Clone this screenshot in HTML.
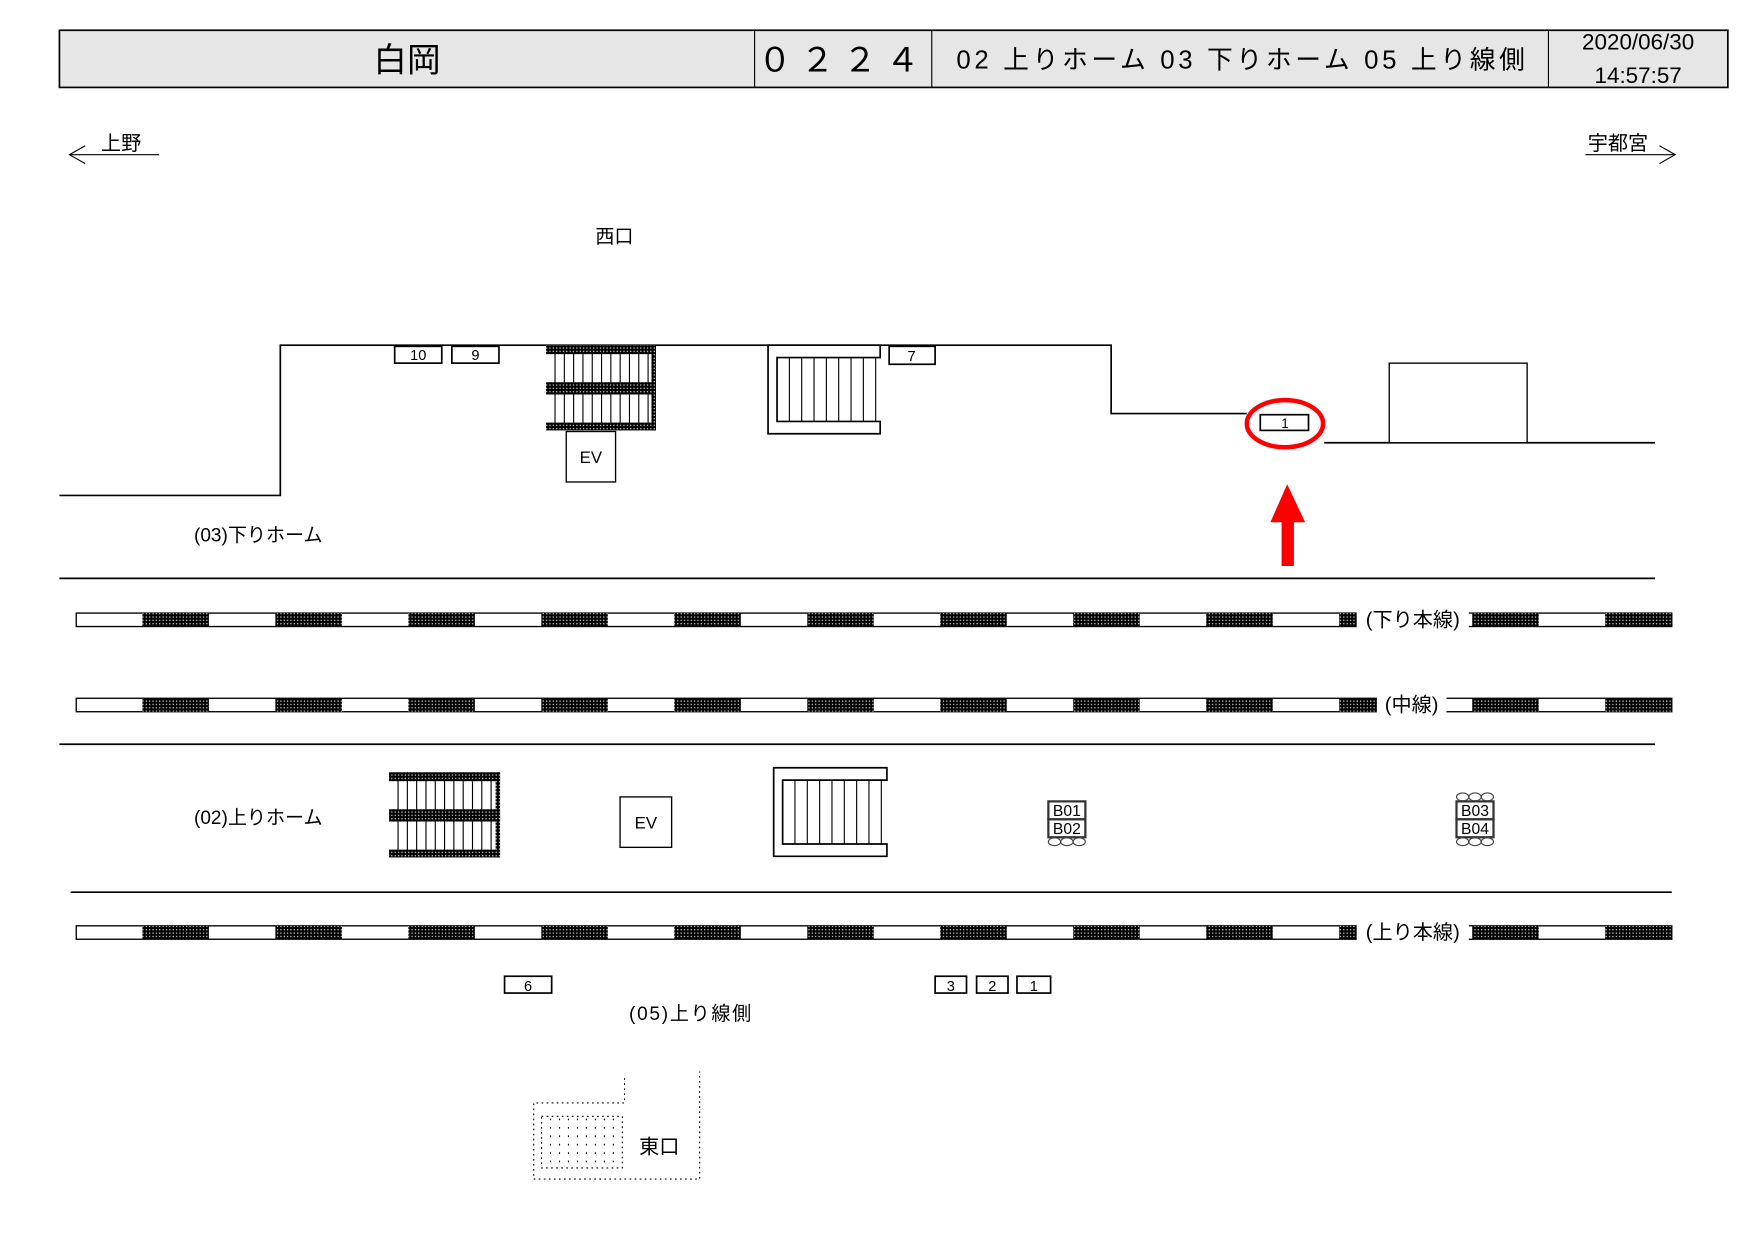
<!DOCTYPE html>
<html><head><meta charset="utf-8"><style>
html,body{margin:0;padding:0;background:#fff;}
svg{display:block;}
text{font-family:"Liberation Sans","Noto Sans CJK JP",sans-serif;fill:#000;}
</style></head><body>
<svg id="s" width="1757" height="1243" viewBox="0 0 1567 1109" preserveAspectRatio="none" xmlns="http://www.w3.org/2000/svg">
<defs>
<pattern id="h" width="3" height="3" patternUnits="userSpaceOnUse">
<rect width="3" height="3" fill="#000"/><rect x="1" y="1" width="1" height="1" fill="#fff"/>
</pattern>
</defs>
<rect x="53" y="27" width="1488" height="51" fill="#e6e6e6" stroke="#000" stroke-width="1.5"/>
<line x1="673" y1="27" x2="673" y2="78" stroke="#000"/>
<line x1="831" y1="27" x2="831" y2="78" stroke="#000"/>
<line x1="1381" y1="27" x2="1381" y2="78" stroke="#000"/>
<text x="363" y="64" font-size="30" text-anchor="middle">白岡</text>
<text x="752" y="64" font-size="30" text-anchor="middle" letter-spacing="8">０２２４</text>
<text x="853" y="61" font-size="23" textLength="507" lengthAdjust="spacing">02 上りホーム 03 下りホーム 05 上り線側</text>
<text x="1461" y="44" font-size="20" text-anchor="middle">2020/06/30</text>
<text x="1461" y="74" font-size="20" text-anchor="middle">14:57:57</text>
<line x1="62" y1="138" x2="142" y2="138" stroke="#000"/>
<polyline points="76,130 62,138 76,146" fill="none" stroke="#000"/>
<text x="90" y="134" font-size="18">上野</text>
<line x1="1414" y1="138" x2="1494" y2="138" stroke="#000"/>
<polyline points="1480,130 1494,138 1480,146" fill="none" stroke="#000"/>
<text x="1416" y="134" font-size="18">宇都宮</text>
<text x="531" y="217" font-size="17">西口</text>
<polyline points="53,442 250,442 250,308 991,308 991,369 1112,369" fill="none" stroke="#000" stroke-width="1.5"/>
<polyline points="1181,395 1476,395" fill="none" stroke="#000" stroke-width="1.5"/>
<rect x="1239" y="324" width="123" height="71" fill="#fff" stroke="#000" stroke-width="1.2"/>
<rect x="352" y="309" width="42" height="15" fill="#fff" stroke="#000" stroke-width="1.5"/>
<text x="373" y="321" font-size="13" text-anchor="middle">10</text>
<rect x="403" y="309" width="42" height="15" fill="#fff" stroke="#000" stroke-width="1.5"/>
<text x="424" y="321" font-size="13" text-anchor="middle">9</text>
<rect x="793" y="309" width="41" height="16" fill="#fff" stroke="#000" stroke-width="1.5"/>
<text x="813" y="322" font-size="13" text-anchor="middle">7</text>
<g id="st1"></g>
<rect x="505" y="385" width="44" height="45" fill="#fff" stroke="#000" stroke-width="1.2"/>
<text x="527" y="413" font-size="15" text-anchor="middle">EV</text>
<g id="es1"></g>
<rect x="1124" y="370" width="43" height="14" fill="#fff" stroke="#000" stroke-width="1.5"/>
<text x="1146" y="382" font-size="12" text-anchor="middle">1</text>
<ellipse cx="1146" cy="378" rx="34" ry="21" fill="none" stroke="#f00" stroke-width="4"/>
<polygon points="1148,432 1164,466 1154,466 1154,505 1143,505 1143,466 1133,466" fill="#f00"/>
<text x="173" y="483" font-size="17">(03)下りホーム</text>
<line x1="53" y1="516" x2="1476" y2="516" stroke="#000" stroke-width="1.5"/>
<g id="tracks"></g>
<line x1="53" y1="664" x2="1476" y2="664" stroke="#000" stroke-width="1.5"/>
<text x="173" y="735" font-size="17">(02)上りホーム</text>
<g id="st2"></g>
<rect x="553" y="711" width="46" height="45" fill="#fff" stroke="#000" stroke-width="1.2"/>
<text x="576" y="739" font-size="15" text-anchor="middle">EV</text>
<g id="es2"></g>
<g id="b"></g>
<line x1="63" y1="796" x2="1491" y2="796" stroke="#000" stroke-width="1.5"/>
<rect x="450" y="871" width="42" height="15" fill="#fff" stroke="#000" stroke-width="1.5"/>
<text x="471" y="884" font-size="13" text-anchor="middle">6</text>
<rect x="834" y="871" width="28" height="15" fill="#fff" stroke="#000" stroke-width="1.5"/>
<text x="848" y="884" font-size="13" text-anchor="middle">3</text>
<rect x="871" y="871" width="28" height="15" fill="#fff" stroke="#000" stroke-width="1.5"/>
<text x="885" y="884" font-size="13" text-anchor="middle">2</text>
<rect x="907" y="871" width="30" height="15" fill="#fff" stroke="#000" stroke-width="1.5"/>
<text x="922" y="884" font-size="13" text-anchor="middle">1</text>
<text x="561" y="910" font-size="17" textLength="109">(05)上り線側</text>
<g fill="none" stroke="#000" stroke-dasharray="1.5 3">
<polyline points="557,962 557,984 476,984 476,1052 624,1052 624,956"/>
<rect x="483" y="996" width="72" height="46"/>
</g>
<g id="eg"></g>
<text x="570" y="1029" font-size="18">東口</text>
</svg>
<script>
var NS="http://www.w3.org/2000/svg";
function el(p,t,a){var e=document.createElementNS(NS,t);for(var k in a)e.setAttribute(k,a[k]);document.getElementById(p).appendChild(e);return e;}
function track(y,lx,lw,label){
  el("tracks","rect",{x:68,y:y,width:1423,height:12,fill:"#fff",stroke:"#000","stroke-width":1.2});
  for(var i=0;i<12;i++){var x=127+118.6*i;el("tracks","rect",{x:x,y:y,width:59.3,height:12,fill:"url(#h)"});}
  el("tracks","rect",{x:lx,y:y-4,width:lw,height:20,fill:"#fff"});
  var t=el("tracks","text",{x:lx+lw/2,y:y+12,"font-size":18,"text-anchor":"middle"});t.textContent=label;
}
track(547,1210,100,"(下り本線)");
track(623,1228,62,"(中線)");
track(826,1210,100,"(上り本線)");
function stairs(id,x,y,w,h){
  el(id,"rect",{x:x,y:y,width:w,height:h,fill:"#fff"});
  for(var i=0;i<11;i++){var lx=x+8+i*8.3;if(lx<x+w-4)el(id,"line",{x1:lx,y1:y,x2:lx,y2:y+h,stroke:"#000","stroke-width":1});}
  el(id,"rect",{x:x,y:y,width:w,height:8,fill:"url(#h)"});
  el(id,"rect",{x:x,y:y+h/2-5,width:w,height:11,fill:"url(#h)"});
  el(id,"rect",{x:x,y:y+h-7,width:w,height:7,fill:"url(#h)"});
  el(id,"rect",{x:x+w-4,y:y,width:4,height:h,fill:"url(#h)"});
}
stairs("st1",487,308,98,76);
stairs("st2",347,689,99,76);
function esc(id,x,y,w,h){
  el(id,"polygon",{points:[x+w,y,x,y,x,y+h,x+w,y+h,x+w,y+h-11,x+8,y+h-11,x+8,y+11,x+w,y+11].join(","),fill:"#fff",stroke:"#000","stroke-width":1.5});
  for(var i=0;i<9;i++){var lx=x+8+i*11;el(id,"line",{x1:lx,y1:y+11,x2:lx,y2:y+h-11,stroke:"#000"});}
}
esc("es1",685,308,100,79);
esc("es2",690,685,101,79);
function bb(x,l1,l2,top){
  el("b","rect",{x:x,y:715,width:33,height:16,fill:"#fff",stroke:"#333","stroke-width":2});
  el("b","rect",{x:x,y:731,width:33,height:16,fill:"#fff",stroke:"#333","stroke-width":2});
  var t=el("b","text",{x:x+16.5,y:728,"font-size":14,"text-anchor":"middle"});t.textContent=l1;
  t=el("b","text",{x:x+16.5,y:744,"font-size":14,"text-anchor":"middle"});t.textContent=l2;
  for(var i=0;i<3;i++){
    el("b","ellipse",{cx:x+5.5+i*11,cy:751,rx:5.5,ry:3.5,fill:"none",stroke:"#444"});
    if(top)el("b","ellipse",{cx:x+5.5+i*11,cy:711,rx:5.5,ry:3.5,fill:"none",stroke:"#444"});
  }
}
bb(935,"B01","B02",false);
bb(1299,"B03","B04",true);
for(var i=0;i<8;i++){el("eg","line",{x1:491+i*8,y1:998,x2:491+i*8,y2:1040,stroke:"#000","stroke-dasharray":"1.5 6"});}
</script>
</body></html>
